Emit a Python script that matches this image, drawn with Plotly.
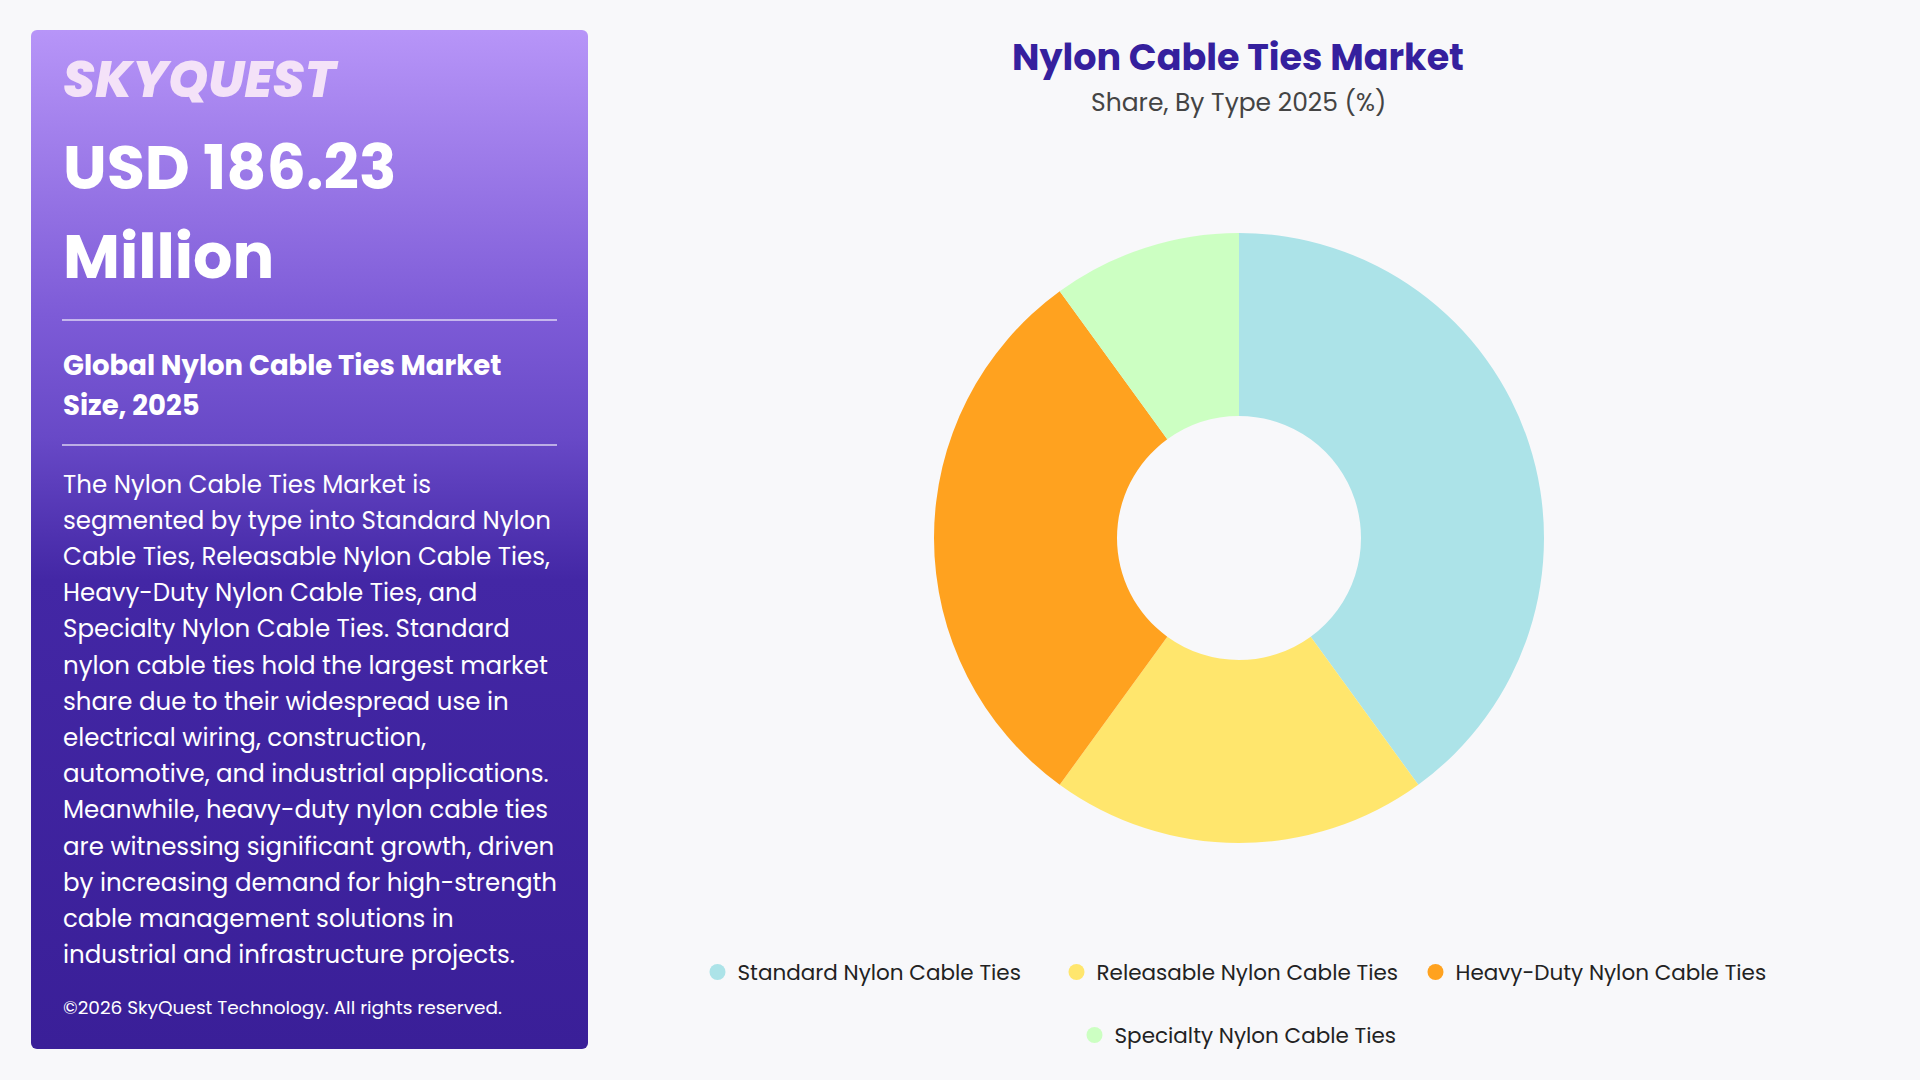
import base64
import plotly.graph_objects as go

# ---------------- data ----------------
categories = [
    "Standard Nylon Cable Ties",
    "Releasable Nylon Cable Ties",
    "Heavy-Duty Nylon Cable Ties",
    "Specialty Nylon Cable Ties",
]
shares = [40, 20, 30, 10]
colors = ["#ACE3E8", "#FFE66D", "#FFA21F", "#CCFFC2"]

title_text = "Nylon Cable Ties Market"
subtitle_text = "Share, By Type 2025 (%)"
market_value_lines = ["USD 186.23", "Million"]
market_label_lines = ["Global Nylon Cable Ties Market", "Size, 2025"]
description_lines = [
    "The Nylon Cable Ties Market is",
    "segmented by type into Standard Nylon",
    "Cable Ties, Releasable Nylon Cable Ties,",
    "Heavy-Duty Nylon Cable Ties, and",
    "Specialty Nylon Cable Ties. Standard",
    "nylon cable ties hold the largest market",
    "share due to their widespread use in",
    "electrical wiring, construction,",
    "automotive, and industrial applications.",
    "Meanwhile, heavy-duty nylon cable ties",
    "are witnessing significant growth, driven",
    "by increasing demand for high-strength",
    "cable management solutions in",
    "industrial and infrastructure projects.",
]
copyright_text = "©2026 SkyQuest Technology. All rights reserved."
brand_text = "SKYQUEST"

# ---------------- layout helpers ----------------
W, H = 1920, 1080
FONT = "Poppins, 'Open Sans', sans-serif"


def px(x):
    return x / W


def py(y):
    return 1 - y / H


fig = go.Figure()

# donut
fig.add_trace(go.Pie(
    labels=categories,
    values=shares,
    marker=dict(colors=colors, line=dict(width=0)),
    hole=0.40,
    sort=False,
    direction="clockwise",
    rotation=0,
    textinfo="none",
    hoverinfo="label+percent",
    showlegend=False,
    domain=dict(x=[px(932), px(1546)], y=[py(843), py(233)]),
))

# legend entries (two rows: first three, then the last one)
for i, (name, col) in enumerate(zip(categories, colors)):
    fig.add_trace(go.Scatter(
        x=[None], y=[None], mode="markers", name=name,
        marker=dict(size=20, color=col, symbol="circle"),
        legend="legend" if i < 3 else "legend2",
        hoverinfo="skip",
    ))

# left gradient panel as an SVG image
panel_x0, panel_y0, panel_x1, panel_y1 = 31, 30, 588, 1049
pw, ph = panel_x1 - panel_x0, panel_y1 - panel_y0
svg = f"""<svg xmlns='http://www.w3.org/2000/svg' width='{pw}' height='{ph}' viewBox='0 0 {pw} {ph}' preserveAspectRatio='none'>
<defs><linearGradient id='g' x1='0' y1='0' x2='0' y2='1'>
<stop offset='0' stop-color='#B795F8'/>
<stop offset='0.28' stop-color='#7D5BD7'/>
<stop offset='0.40' stop-color='#6849C7'/>
<stop offset='0.54' stop-color='#4327A5'/>
<stop offset='1' stop-color='#3A1F98'/>
</linearGradient></defs>
<rect x='0' y='0' width='{pw}' height='{ph}' rx='6' ry='6' fill='url(#g)'/>
</svg>"""
svg_uri = "data:image/svg+xml;base64," + base64.b64encode(svg.encode()).decode()

images = [dict(
    source=svg_uri, xref="paper", yref="paper",
    x=px(panel_x0), y=py(panel_y0), sizex=pw / W, sizey=ph / H,
    xanchor="left", yanchor="top", sizing="stretch", layer="below",
)]

annotations = []
TX = px(61)

annotations.append(dict(
    text=f"<i>{brand_text}</i>", x=TX, y=py(79), xref="paper", yref="paper",
    xanchor="left", yanchor="middle", showarrow=False,
    font=dict(family=FONT, size=51, color="#F4E2F8", weight=800),
))
for i, line in enumerate(market_value_lines):
    annotations.append(dict(
        text=f"<b>{line}</b>", x=TX, y=py(167 + i * 90), xref="paper", yref="paper",
        xanchor="left", yanchor="middle", showarrow=False,
        font=dict(family=FONT, size=62, color="#FFFFFF"),
    ))
for i, line in enumerate(market_label_lines):
    annotations.append(dict(
        text=f"<b>{line}</b>", x=TX, y=py(365 + i * 40), xref="paper", yref="paper",
        xanchor="left", yanchor="middle", showarrow=False,
        font=dict(family=FONT, size=27.5, color="#FFFFFF"),
    ))
for i, line in enumerate(description_lines):
    annotations.append(dict(
        text=line, x=TX, y=py(484 + i * 36.2), xref="paper", yref="paper",
        xanchor="left", yanchor="middle", showarrow=False,
        font=dict(family=FONT, size=24.5, color="#FFFFFF"),
    ))
annotations.append(dict(
    text=copyright_text, x=TX, y=py(1007), xref="paper", yref="paper",
    xanchor="left", yanchor="middle", showarrow=False,
    font=dict(family=FONT, size=18.5, color="#FFFFFF"),
))

# chart title + subtitle
annotations.append(dict(
    text=f"<b>{title_text}</b>", x=px(1238), y=py(58), xref="paper", yref="paper",
    xanchor="center", yanchor="middle", showarrow=False,
    font=dict(family=FONT, size=36.5, color="#35209E"),
))
annotations.append(dict(
    text=subtitle_text, x=px(1238), y=py(103), xref="paper", yref="paper",
    xanchor="center", yanchor="middle", showarrow=False,
    font=dict(family=FONT, size=25, color="#444444"),
))

shapes = [
    dict(type="line", xref="paper", yref="paper", x0=px(62), x1=px(557), y0=py(320), y1=py(320),
         line=dict(color="rgba(255,255,255,0.75)", width=1.5)),
    dict(type="line", xref="paper", yref="paper", x0=px(62), x1=px(557), y0=py(445), y1=py(445),
         line=dict(color="rgba(255,255,255,0.75)", width=1.5)),
]

legend_font = dict(family=FONT, size=21.5, color="#222222")
fig.update_layout(
    width=W, height=H,
    margin=dict(l=0, r=0, t=0, b=0),
    paper_bgcolor="#F8F8FA",
    plot_bgcolor="#F8F8FA",
    xaxis=dict(visible=False, domain=[0.99, 1.0]),
    yaxis=dict(visible=False, domain=[0.99, 1.0]),
    images=images,
    shapes=shapes,
    annotations=annotations,
    legend=dict(orientation="h", x=px(1236), y=py(972), xanchor="center", yanchor="middle",
                font=legend_font, bgcolor="rgba(0,0,0,0)", entrywidth=314, itemclick=False),
    legend2=dict(orientation="h", x=px(1238), y=py(1035), xanchor="center", yanchor="middle",
                 font=legend_font, bgcolor="rgba(0,0,0,0)", itemclick=False),
    showlegend=True,
)

fig.write_html(
    "out.html",
    config={"displayModeBar": False},
    post_script="document.body.style.margin='0';document.body.style.background='#F8F8FA';",
)
